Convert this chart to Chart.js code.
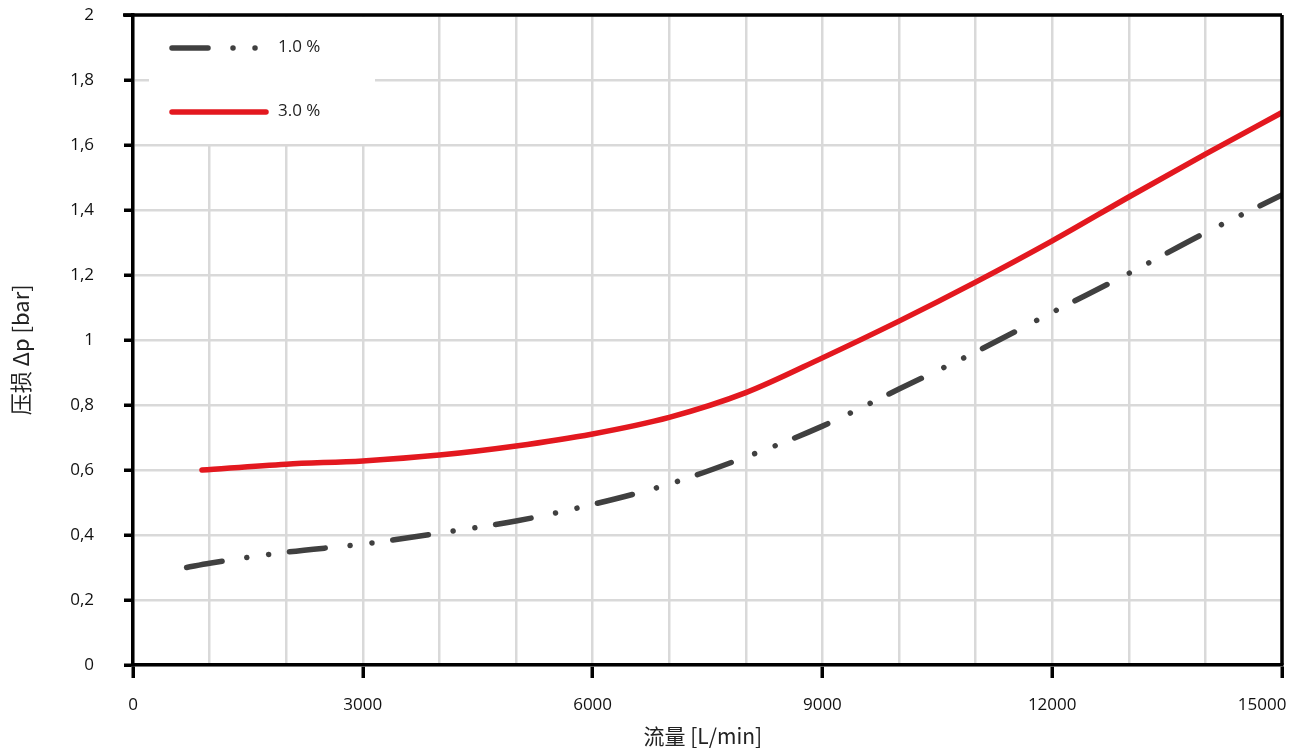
<!DOCTYPE html>
<html>
<head>
<meta charset="utf-8">
<script src="https://cdn.jsdelivr.net/npm/chart.js@4"></script>
<style>
html,body{margin:0;padding:0;background:#fff;}
#wrap{width:1300px;height:753px;position:relative;}
</style>
</head>
<body>
<div id="wrap"><canvas id="c" width="1300" height="753"></canvas></div>
<script>
// ---- data ----
const seriesNames = ['1.0 %', '3.0 %'];
const flow1 = [700, 1000, 2000, 3000, 4000, 5000, 6000, 7000, 8000, 9000, 10000, 11000, 12000, 13000, 14000, 15000];
const dp1   = [0.300, 0.313, 0.347, 0.372, 0.406, 0.443, 0.494, 0.557, 0.640, 0.735, 0.849, 0.963, 1.085, 1.205, 1.330, 1.446];
const flow3 = [900, 2000, 3000, 4000, 5000, 6000, 7000, 8000, 9000, 10000, 11000, 12000, 13000, 14000, 15000];
const dp3   = [0.600, 0.618, 0.628, 0.646, 0.674, 0.711, 0.762, 0.838, 0.945, 1.058, 1.178, 1.305, 1.440, 1.572, 1.700];
const xTickLabels = ['0', '3000', '6000', '9000', '12000', '15000         '];
const yTickLabels = ['0', '0,2', '0,4', '0,6', '0,8', '1', '1,2', '1,4', '1,6', '1,8', '2'];
const xTitle = '流量 [L/min]  ';
const yTitle = '压损 Δp [bar]    ';

const GRAY = '#404040';
const RED = '#e3181f';
const DASH = [36, 25, 0.01, 22, 0.01, 21];
const TICKFONT = {family: '"Open Sans", sans-serif', size: 17};

function zip(xs, ys){ return xs.map((x,i)=>({x:x, y:ys[i]})); }

const frame = {
  id: 'frame',
  beforeDatasetsDraw(chart){
    const ctx = chart.ctx;
    ctx.save();
    ctx.fillStyle = '#fff';
    ctx.fillRect(149, 17, 226, 127);
    ctx.restore();
  },
  afterDatasetsDraw(chart){
    const ctx = chart.ctx, a = chart.chartArea;
    ctx.save();
    ctx.strokeStyle = '#000';
    ctx.lineWidth = 3.5;
    ctx.beginPath();
    ctx.moveTo(a.left - 10, a.top); ctx.lineTo(a.right, a.top);
    ctx.moveTo(a.right, a.top); ctx.lineTo(a.right, a.bottom);
    ctx.stroke();
    // legend
    ctx.lineCap = 'round';
    ctx.lineWidth = 5.5;
    ctx.strokeStyle = GRAY;
    ctx.setLineDash(DASH);
    ctx.beginPath(); ctx.moveTo(172, 48); ctx.lineTo(258, 48); ctx.stroke();
    ctx.setLineDash([]);
    ctx.strokeStyle = RED;
    ctx.beginPath(); ctx.moveTo(172, 112); ctx.lineTo(266, 112); ctx.stroke();
    ctx.fillStyle = '#222';
    ctx.font = '17px "Open Sans", sans-serif';
    ctx.textBaseline = 'middle';
    ctx.textAlign = 'left';
    ctx.fillText(seriesNames[0], 278, 47);
    ctx.fillText(seriesNames[1], 278, 111);
    ctx.restore();
  }
};

new Chart(document.getElementById('c'), {
  type: 'line',
  data: {
    datasets: [
      {label: seriesNames[0], data: zip(flow1, dp1), borderColor: GRAY, borderWidth: 5.5,
       borderDash: DASH, borderCapStyle: 'round', pointRadius: 0, cubicInterpolationMode: 'monotone', fill: false},
      {label: seriesNames[1], data: zip(flow3, dp3), borderColor: RED, borderWidth: 5.5,
       borderCapStyle: 'round', pointRadius: 0, cubicInterpolationMode: 'monotone', fill: false}
    ]
  },
  options: {
    responsive: false,
    animation: false,
    devicePixelRatio: 1,
    layout: {padding: {top: 15, right: 18, left: 0, bottom: 0}},
    plugins: {legend: {display: false}, tooltip: {enabled: false}},
    scales: {
      x: {
        type: 'linear', min: 0, max: 15000,
        afterFit(s){ s.height = 88; s.paddingLeft = 0; s.paddingRight = 0; },
        ticks: {stepSize: 1000, autoSkip: false, maxRotation: 0, color: '#111', font: TICKFONT, padding: 17,
          callback(v){ return v % 3000 === 0 ? xTickLabels[v / 3000] : ''; }},
        grid: {color: '#d9d9d9', lineWidth: 2.5, tickLength: 13, tickWidth: 3.5,
          tickColor(c){ return (c.tick && c.tick.value % 3000 === 0) ? '#000' : 'rgba(0,0,0,0)'; }},
        border: {color: '#000', width: 3.5},
        title: {display: true, text: xTitle, color: '#222', font: {family: '"Noto Sans CJK SC", sans-serif', size: 21}, padding: {top: 0, bottom: 4}}
      },
      y: {
        type: 'linear', min: 0, max: 2,
        afterFit(s){ s.width = 133; s.paddingTop = 0; s.paddingBottom = 0; },
        ticks: {stepSize: 0.2, color: '#111', font: TICKFONT, padding: 30, crossAlign: 'near',
          callback(v){ const i = Math.round(v * 5); return yTickLabels[i]; }},
        grid: {color: '#d9d9d9', lineWidth: 2.5, tickLength: 9, tickWidth: 3.5, tickColor: '#000'},
        border: {color: '#000', width: 3.5},
        title: {display: true, text: yTitle, color: '#222', font: {family: '"Noto Sans CJK SC", sans-serif', size: 22}, padding: {top: 7, bottom: 0}}
      }
    }
  },
  plugins: [frame]
});
</script>
</body>
</html>
